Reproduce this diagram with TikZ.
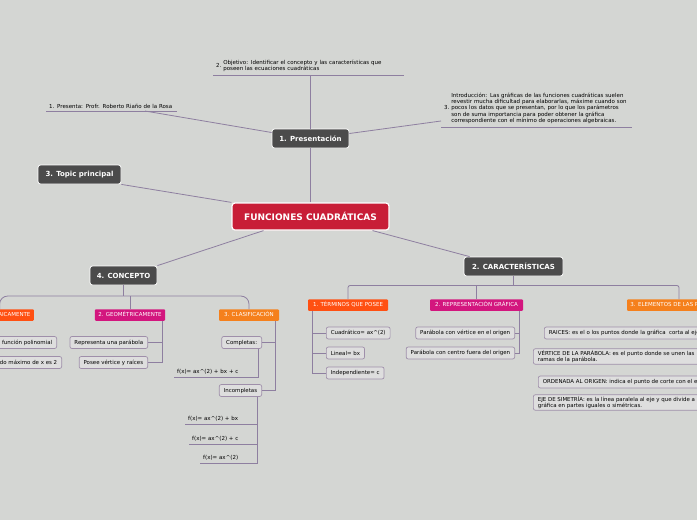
\documentclass[tikz,border=0pt]{standalone}
\usepackage{fontspec}
\setmainfont{DejaVu Sans}
\usepackage{xcolor}
\usepackage{tikz}
\usetikzlibrary{positioning}

\definecolor{bgcol}{HTML}{D4D6D3}
\definecolor{topiccol}{HTML}{4B4B4B}
\definecolor{centralcol}{HTML}{C81E37}
\definecolor{redcol}{HTML}{FF5012}
\definecolor{magcol}{HTML}{D3167E}
\definecolor{orangecol}{HTML}{F5801C}
\definecolor{linkcol}{HTML}{8E7FA0}
\definecolor{leafcol}{HTML}{DEDEDE}
\definecolor{leafline}{HTML}{9F8FAA}

\tikzset{
  central/.style={draw=white, line width=1.2pt, fill=centralcol, rounded corners=3pt, text=white,
    font=\fontsize{9}{10}\selectfont\bfseries, minimum width=157pt, minimum height=27pt},
  topic/.style={draw=white, line width=0.8pt, fill=topiccol, rounded corners=2.5pt, text=white,
    font=\fontsize{7}{8}\selectfont\bfseries, minimum height=19pt},
  subbox/.style={rounded corners=1pt, text=white, font=\fontsize{5.5}{6}\selectfont,
    minimum height=11.5pt, inner ysep=1pt, text height=4pt, text depth=1pt},
  leaf/.style={draw=leafline, line width=0.7pt, fill=leafcol, rounded corners=2pt,
    font=\fontsize{5.45}{6.3}\selectfont, inner xsep=4.5pt, inner ysep=1.5pt, minimum height=12pt, align=left},
  note/.style={font=\fontsize{5.5}{6.2}\selectfont, inner xsep=3pt, inner ysep=2.5pt, align=left},
  link/.style={draw=linkcol, line width=0.8pt}
}

\begin{document}
\begin{tikzpicture}[x=1pt, y=-1pt]
  \useasboundingbox (0,0) rectangle (697,520);
  \fill[bgcol] (0,0) rectangle (697,520);
  \clip (0,0) rectangle (697,520);

  % main and first level
  \node[central] (main) at (310.5,216.5) {FUNCIONES CUADRÁTICAS};
  \node[topic, minimum width=77pt] (pres) at (310.5,138.5) {1. Presentación};
  \node[topic, minimum width=83pt] (topic) at (79.5,174.5) {3. Topic principal};
  \node[topic, minimum width=67pt] (concepto) at (123.5,275.5) {4. CONCEPTO};
  \node[topic, minimum width=99pt] (caract) at (513.5,266.5) {2. CARACTERÍSTICAS};

  \draw[link] (main) -- (pres);
  \draw[link] (main.north west) -- (topic.south east);
  \draw[link] ([xshift=-47pt]main.south) -- (concepto.north east);
  \draw[link] ([xshift=-17pt]main.south east) -- ([xshift=6pt]caract.north west);

  % presentacion
  \node[note, text width=185pt, anchor=south west] (objetivo) at (213,75)
    {\begin{tabular}{@{}l@{\ }l@{}}2. & \begin{tabular}{@{}l@{}}Objetivo: Identificar el concepto y las características que\\ poseen las ecuaciones cuadráticas\end{tabular}\end{tabular}};
  \node[note, text width=125pt, anchor=south west] (presenta) at (46,111)
    {1. Presenta: Profr. Roberto Riaño de la Rosa};
  \node[note, text width=185pt, anchor=south west] (intro) at (441,127)
    {\begin{tabular}{@{}l@{\ }l@{}}3. & \begin{tabular}{@{}l@{}}Introducción: Las gráficas de las funciones cuadráticas suelen\\
      revestir mucha dificultad para elaborarlas, máxime cuando son\\
      pocos los datos que se presentan, por lo que los parámetros\\
      son de suma importancia para poder obtener la gráfica\\
      correspondiente con el mínimo de operaciones algebraicas.\end{tabular}\end{tabular}};

  \draw[link] (objetivo.south west) -- (objetivo.south east);
  \draw[link] (presenta.south west) -- (presenta.south east);
  \draw[link] (intro.south west) -- (intro.south east);
  \draw[link] (pres) -- (pres |- objetivo.south);
  \draw[link] ([yshift=6pt]pres.west) -- ([xshift=99pt]presenta.south west);
  \draw[link] ([yshift=5pt]pres.east) -- ([yshift=6pt]intro.south west);

  % concepto
  \node[subbox, fill=redcol, anchor=east] (alg) at (34,315) {1. ALGEBRAICAMENTE};
  \node[subbox, fill=magcol, minimum width=70pt] (geo) at (130,315) {2. GEOMÉTRICAMENTE};
  \node[subbox, fill=orangecol, minimum width=60pt] (clas) at (249,315) {3. CLASIFICACIÓN};

  \draw[link] (concepto.south) -- ++(0,11);
  \draw[link, rounded corners=8pt] (alg.north) -- ++(0,-13) -| (clas.north);
  \draw[link] (geo.north) -- ++(0,-13);

  \node[leaf, anchor=east] (polin) at (57,342.5) {Es una función polinomial};
  \node[leaf, anchor=east] (grado) at (62,362.5) {Su grado máximo de x es 2};
  \node[leaf, anchor=east] (parab) at (148,342.5) {Representa una parábola};
  \node[leaf, anchor=east] (vertraiz) at (148,362.5) {Posee vértice y raíces};
  \node[leaf, anchor=east] (compl) at (262,342.5) {Completas:};
  \node[leaf, anchor=east] (incompl) at (262,390.5) {Incompletas};

  \draw[link] ([xshift=-3pt]geo.south east) |- (parab.east);
  \draw[link] ([xshift=-3pt]geo.south east) |- (vertraiz.east);
  \draw[link] ([xshift=-4pt]clas.south east) |- (compl.east);
  \draw[link] ([xshift=-4pt]clas.south east) |- (incompl.east);

  \node[note, text width=78pt, anchor=south west] (fxc) at (174,377) {f(x)= ax\textasciicircum(2) + bx + c};
  \node[note, text width=66pt, anchor=south west] (fxa) at (185,424) {f(x)= ax\textasciicircum(2) + bx};
  \node[note, text width=62pt, anchor=south west] (fxb) at (189,444) {f(x)= ax\textasciicircum(2) + c};
  \node[note, text width=51pt, anchor=south west] (fxd) at (200,463) {f(x)= ax\textasciicircum(2)};

  \draw[link] ([xshift=-4pt]compl.south east) |- (fxc.south west);
  \draw[link] ([xshift=-5pt]incompl.south east) |- (fxa.south west);
  \draw[link] ([xshift=-5pt]incompl.south east) |- (fxb.south west);
  \draw[link] ([xshift=-5pt]incompl.south east) |- (fxd.south west);

  % caracteristicas
  \node[subbox, fill=redcol, minimum width=80pt] (terminos) at (348,305) {1. TÉRMINOS QUE POSEE};
  \node[subbox, fill=magcol, minimum width=93pt] (repgraf) at (476.5,305) {2. REPRESENTACIÓN GRÁFICA};
  \node[subbox, fill=orangecol, minimum width=104pt] (elementos) at (679,305) {3. ELEMENTOS DE LAS PARÁBOLAS};

  \draw[link] (caract.south) -- ++(0,10);
  \draw[link, rounded corners=2pt] (terminos.north) -- ++(0,-13.5) -| (elementos.north);
  \draw[link] (repgraf.north) -- ++(0,-13.5);

  \node[leaf, anchor=west] (cuad) at (326,333) {Cuadrático= ax\textasciicircum(2)};
  \node[leaf, anchor=west] (lineal) at (326,353) {Lineal= bx};
  \node[leaf, anchor=west] (indep) at (326,373) {Independiente= c};
  \node[leaf, anchor=east] (vorig) at (515,333) {Parábola con vértice en el origen};
  \node[leaf, anchor=east] (vfuera) at (515,353) {Parábola con centro fuera del origen};

  \draw[link] ([xshift=5pt]terminos.south west) |- (cuad.west);
  \draw[link] ([xshift=5pt]terminos.south west) |- (lineal.west);
  \draw[link] ([xshift=5pt]terminos.south west) |- (indep.west);
  \draw[link] ([xshift=-4pt]repgraf.south east) |- (vorig.east);
  \draw[link] ([xshift=-4pt]repgraf.south east) |- (vfuera.east);

  \node[leaf, anchor=west] (raices) at (544,333) {RAICES: es el o los puntos donde la gráfica\ \ corta al eje x.};
  \node[leaf, anchor=west] (vertice) at (533,356.5) {VÉRTICE DE LA PARÁBOLA: es el punto donde se unen las\\ ramas de la parábola.};
  \node[leaf, anchor=west] (ordenada) at (538,382) {ORDENADA AL ORIGEN: indica el punto de corte con el eje y.};
  \node[leaf, anchor=west] (simetria) at (533,402.5) {EJE DE SIMETRÍA: es la línea paralela al eje y que divide a la\\ gráfica en partes iguales o simétricas.};
\end{tikzpicture}
\end{document}
